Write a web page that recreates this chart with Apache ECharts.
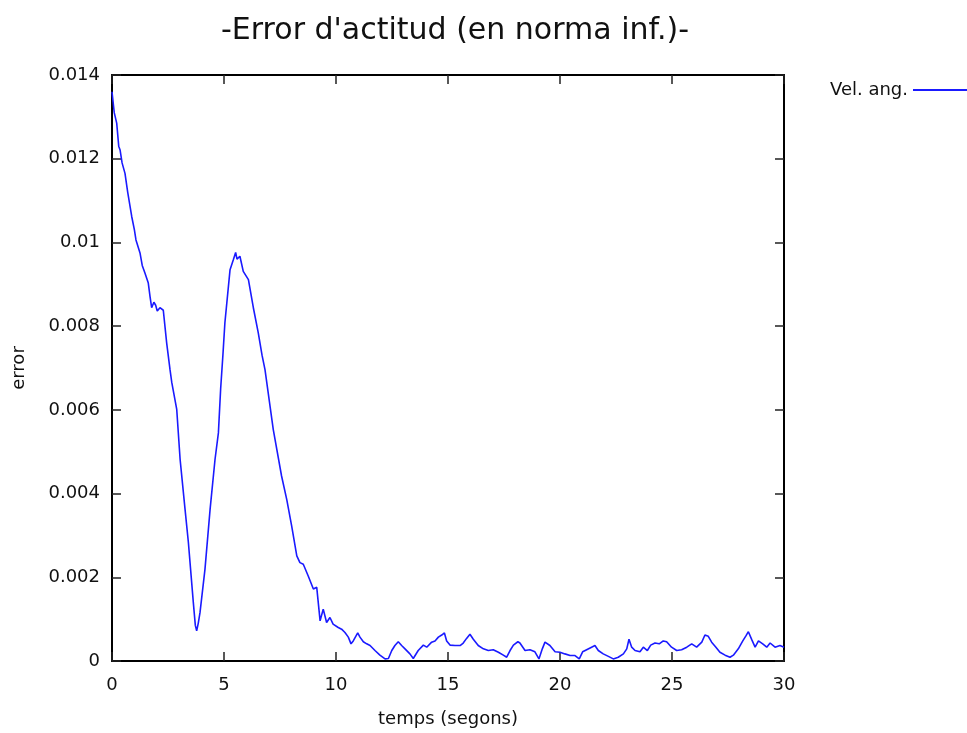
<!DOCTYPE html>
<html>
<head>
<meta charset="utf-8">
<script src="https://cdn.jsdelivr.net/npm/echarts@6/dist/echarts.min.js"></script>
<style>
  html, body { margin: 0; padding: 0; background: #fff; }
  #chart { width: 967px; height: 733px; }
</style>
</head>
<body>
<div id="chart"></div>
<script>
// temps (segons)
var temps = [
  0, 0.1, 0.21, 0.3, 0.36, 0.45, 0.58, 0.7, 0.88, 1.0, 1.07, 1.25, 1.35, 1.47, 1.62, 1.7, 1.77, 1.87, 1.95, 2.02,
  2.14, 2.29, 2.44, 2.59, 2.67, 2.89, 3.04, 3.26, 3.41, 3.63, 3.72, 3.78, 3.85, 3.93, 4.15, 4.38, 4.6, 4.75, 4.85, 4.95,
  5.04, 5.27, 5.42, 5.52, 5.58, 5.64, 5.71, 5.86, 6.09, 6.31, 6.53, 6.7, 6.83, 7.2, 7.57, 7.8, 8.02, 8.25, 8.39, 8.54,
  8.76, 8.99, 9.14, 9.29, 9.43, 9.58, 9.73, 9.87,
  10.10, 10.25, 10.40, 10.55, 10.67, 10.77, 10.97, 11.07, 11.22, 11.37, 11.52, 11.74, 11.96, 12.19, 12.34, 12.49, 12.63, 12.78, 12.93, 13.08,
  13.30, 13.45, 13.67, 13.90, 14.05, 14.27, 14.42, 14.57, 14.72, 14.84, 14.94, 15.09, 15.31, 15.54, 15.68, 15.83, 15.98, 16.13, 16.35, 16.58,
  16.80, 17.02, 17.25, 17.47, 17.62, 17.77, 17.92, 18.12, 18.21, 18.44, 18.66, 18.88, 19.06, 19.21, 19.33, 19.55, 19.78, 20.00,
  20.22, 20.45, 20.67, 20.86, 21.01, 21.19, 21.41, 21.56, 21.71, 21.93, 22.16, 22.38, 22.60, 22.83, 22.98, 23.08, 23.20, 23.35, 23.57, 23.72,
  23.90, 24.05, 24.24, 24.43, 24.61, 24.76, 24.98, 25.21, 25.43, 25.66, 25.88, 26.10, 26.33, 26.47, 26.62, 26.77, 26.96, 27.14, 27.37, 27.59,
  27.74, 27.96, 28.16, 28.30, 28.41, 28.56, 28.71, 28.86, 29.05, 29.23, 29.38, 29.60, 29.82, 30.0
];
// error (Vel. ang.)
var velAng = [
  0.0136, 0.0131, 0.01285, 0.0123, 0.01221, 0.0119, 0.01165, 0.0112, 0.01062, 0.0103, 0.01006, 0.00975, 0.00945, 0.00927, 0.00903, 0.0087, 0.00844, 0.00857, 0.0085, 0.00836,
  0.00844, 0.00838, 0.0076, 0.00696, 0.00665, 0.00601, 0.00482, 0.00363, 0.00283, 0.0014, 0.00085, 0.00072, 0.0009, 0.00116, 0.00219, 0.00363, 0.00482, 0.00545, 0.0065, 0.0073,
  0.00808, 0.00935, 0.00959, 0.00976, 0.0096, 0.00959, 0.00967, 0.00931, 0.00911, 0.00844, 0.00784, 0.0073, 0.00696, 0.00553, 0.00442, 0.00386, 0.00323, 0.00251, 0.00235, 0.00231,
  0.00203, 0.00172, 0.00176, 0.00096, 0.00124, 0.00092, 0.00104, 0.00088,
  0.00080, 0.00076, 0.00068, 0.00057, 0.00041, 0.00048, 0.00067, 0.00057, 0.00046, 0.00041, 0.00037, 0.00025, 0.00014, 0.00005, 0.00006, 0.00025, 0.00037, 0.00046, 0.00037, 0.00029,
  0.00017, 0.00006, 0.00025, 0.00038, 0.00033, 0.00045, 0.00048, 0.00057, 0.00062, 0.00067, 0.00048, 0.00038, 0.00037, 0.00037, 0.00043, 0.00054, 0.00064, 0.00052, 0.00037, 0.00029,
  0.00025, 0.00027, 0.00021, 0.00014, 0.00009, 0.00025, 0.00038, 0.00046, 0.00043, 0.00025, 0.00027, 0.00022, 0.00005, 0.00029, 0.00045, 0.00037, 0.00022, 0.00021,
  0.00017, 0.00013, 0.00013, 0.00005, 0.00022, 0.00027, 0.00033, 0.00037, 0.00025, 0.00017, 0.00011, 0.00005, 0.00009, 0.00017, 0.00029, 0.00052, 0.00033, 0.00025, 0.00022, 0.00033,
  0.00025, 0.00038, 0.00043, 0.00041, 0.00048, 0.00046, 0.00033, 0.00025, 0.00027, 0.00033, 0.00041, 0.00033, 0.00045, 0.00062, 0.00059, 0.00045, 0.00033, 0.00021, 0.00014, 0.00009,
  0.00014, 0.00029, 0.00048, 0.00060, 0.00070, 0.00051, 0.00033, 0.00048, 0.00041, 0.00033, 0.00043, 0.00033, 0.00037, 0.00033
];
var xTickStep = 5;
var yTickStep = 0.002;

var myChart = echarts.init(document.getElementById('chart'));

var fontFam = 'DejaVu Sans';
var boxLine = { show: true, onZero: false, lineStyle: { color: '#000', width: 2 } };
var tickIn = { show: true, inside: true, length: 9, lineStyle: { color: '#222', width: 1.5 } };

var pts = temps.map(function (t, i) { return [t, velAng[i]]; });

var option = {
  animation: false,
  backgroundColor: '#fff',
  textStyle: { fontFamily: fontFam },
  title: {
    text: "-Error d'actitud (en norma inf.)-",
    left: 450,
    textAlign: 'center',
    top: 11,
    textStyle: { fontFamily: fontFam, fontSize: 30, fontWeight: 'normal', color: '#111' }
  },
  legend: {
    right: 0,
    top: 76,
    padding: [5, 0, 5, 5],
    align: 'right',
    icon: 'rect',
    itemWidth: 54,
    itemHeight: 2,
    textStyle: { fontFamily: fontFam, fontSize: 18, color: '#111' },
    data: ['Vel. ang.']
  },
  grid: { left: 112, right: 183, top: 75, bottom: 71 },
  xAxis: [{
    type: 'value',
    min: 0, max: 30, interval: xTickStep,
    name: 'temps (segons)',
    nameLocation: 'middle',
    nameGap: 49,
    nameTextStyle: { fontFamily: fontFam, fontSize: 18, color: '#111' },
    axisLine: boxLine,
    axisTick: tickIn,
    splitLine: { show: false },
    axisLabel: { fontFamily: fontFam, fontSize: 18, color: '#111', margin: 15 }
  }, {
    type: 'value', position: 'top',
    min: 0, max: 30, interval: xTickStep,
    axisLine: boxLine, axisTick: tickIn,
    splitLine: { show: false }, axisLabel: { show: false }
  }],
  yAxis: [{
    type: 'value',
    min: 0, max: 0.014, interval: yTickStep,
    name: 'error',
    nameLocation: 'middle',
    nameGap: 84,
    nameTextStyle: { fontFamily: fontFam, fontSize: 18, color: '#111' },
    axisLine: boxLine,
    axisTick: tickIn,
    splitLine: { show: false },
    axisLabel: {
      fontFamily: fontFam, fontSize: 18, color: '#111', margin: 12,
      formatter: function (v) { return String(+v.toFixed(3)); }
    }
  }, {
    type: 'value', position: 'right',
    min: 0, max: 0.014, interval: yTickStep,
    axisLine: boxLine, axisTick: tickIn,
    splitLine: { show: false }, axisLabel: { show: false }
  }],
  series: [{
    name: 'Vel. ang.',
    type: 'line',
    data: pts,
    showSymbol: false,
    symbol: 'none',
    color: '#1a1aff',
    lineStyle: { color: '#1a1aff', width: 1.6 },
    z: 3
  }, {
    // same curve on the mirrored axes so the top/right box edges get drawn
    name: 'mirror',
    type: 'line',
    xAxisIndex: 1,
    yAxisIndex: 1,
    data: pts,
    symbol: 'none',
    silent: true,
    lineStyle: { opacity: 0 },
    z: 1
  }]
};
myChart.setOption(option);
</script>
</body>
</html>
